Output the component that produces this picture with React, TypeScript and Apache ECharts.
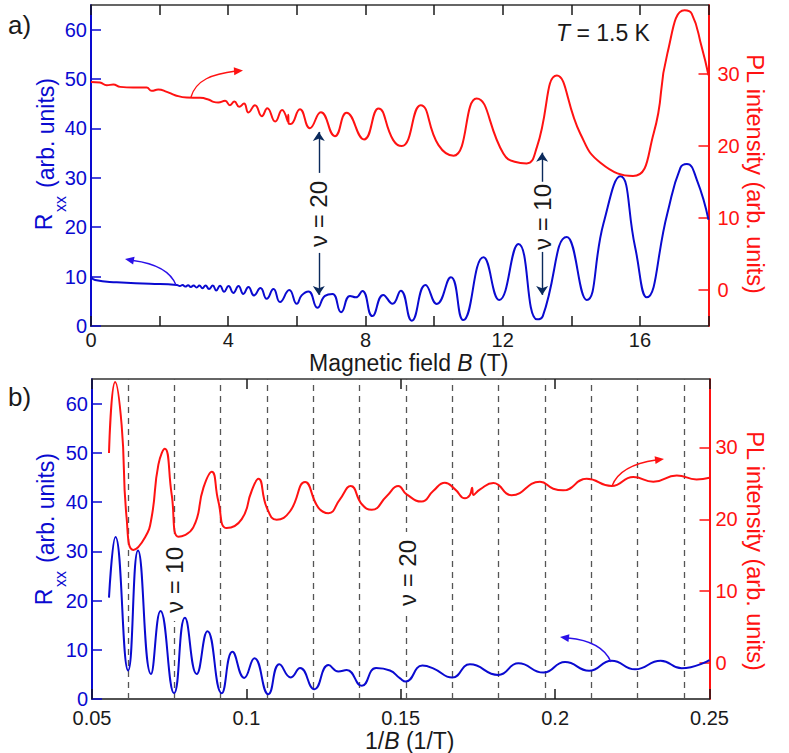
import { useEffect, useRef } from 'react';
import * as echarts from 'echarts';

// panel a: traces against B (T)
const rxxVsField: [number, number][] = [
  [0, 10], [0.12, 9.3], [0.75, 8.85], [1.72, 8.58], [2.5, 8.31], [2.59, 8.11], [2.67, 8.3], [2.75, 7.98], [2.83, 8.25],
  [2.91, 7.9], [2.99, 8.2], [3.08, 7.8], [3.16, 8.2], [3.25, 7.65], [3.34, 8.2], [3.44, 7.5], [3.55, 8.2], [3.65, 7.2],
  [3.76, 8.15], [3.88, 6.95], [4.01, 8.1], [4.15, 6.7], [4.3, 8.1], [4.44, 6.5], [4.59, 7.9], [4.75, 6.2], [4.94, 7.7],
  [5.12, 5.5], [5.32, 7.5], [5.51, 4.85], [5.78, 7.3], [6.0, 4.5], [6.14, 6.2], [6.34, 7.0], [6.6, 3.7], [6.82, 6.1],
  [7.04, 6.5], [7.29, 2.8], [7.55, 6.1], [7.72, 5.8], [7.91, 7.1], [8.2, 2.0], [8.52, 6.3], [8.79, 4.5], [9.03, 7.16],
  [9.35, 1.08], [9.75, 8.3], [10.08, 4.46], [10.49, 9.86], [10.85, 1.2], [11.44, 13.9], [11.9, 5.27], [12.46, 16.6],
  [13.0, 1.35], [13.17, 2.0], [13.87, 18], [14.45, 5.27], [14.94, 20.8], [15.43, 30.3], [15.86, 16], [16.2, 5.8],
  [16.8, 22.8], [17.18, 32], [17.37, 32.8], [17.66, 29.6], [18, 21.5],
];

const plVsField: [number, number][] = [
  [0, 28.84], [0.26, 28.75], [0.46, 28.38], [0.65, 28.47], [0.85, 28.15], [1.23, 28.06], [1.62, 28.06], [1.77, 27.6],
  [1.96, 27.78], [2.21, 27.46], [2.45, 27.0], [2.79, 26.67], [3.18, 26.63], [3.42, 26.4], [3.57, 26.07], [3.71, 25.98],
  [3.91, 26.21], [4.05, 25.61], [4.18, 26.12], [4.32, 25.38], [4.46, 25.84], [4.59, 24.6], [4.78, 25.61], [4.98, 24.09],
  [5.14, 25.2], [5.37, 23.35], [5.57, 24.96], [5.74, 23.3], [5.75, 24.3], [5.76, 23.1], [5.82, 23.0], [6.09, 25.06],
  [6.38, 22.43], [6.7, 24.64], [7.11, 21.32], [7.45, 24.55], [7.96, 20.86], [8.38, 25.15], [8.81, 20.77], [9.06, 19.94],
  [9.61, 25.61], [10.13, 20.07], [10.57, 18.6], [11.24, 26.53], [12.02, 18.92], [12.35, 17.77], [12.7, 17.54], [13.0, 19.84],
  [13.58, 29.72], [14.26, 21.69], [14.85, 17.63], [15.8, 15.78], [16.4, 21.69], [16.8, 32.76], [17.3, 38.76], [17.51, 38.3],
  [17.8, 33.7], [18, 29.76],
];

// panel b: the same traces against 1/B (1/T)
const rxxVsInverse: [number, number][] = [
  [0.0555, 20.6], [0.0576, 32.9], [0.0617, 5.8], [0.0649, 30.2], [0.0691, 5.1], [0.0722, 17.9], [0.0766, 1.2], [0.0801, 16.5],
  [0.0839, 5.1], [0.0874, 13.8], [0.092, 1.2], [0.0955, 9.6], [0.0993, 4.3], [0.1026, 8.3], [0.1071, 1.0], [0.1107, 7.1],
  [0.1144, 4.4], [0.1174, 6.3], [0.122, 2.0], [0.1266, 6.9], [0.1298, 5.6], [0.1325, 5.9], [0.1374, 2.7], [0.142, 6.3],
  [0.1465, 5.8], [0.1498, 4.2], [0.1516, 3.56], [0.157, 6.8], [0.1605, 6.25], [0.1667, 4.37], [0.1724, 7.06], [0.1816, 4.9],
  [0.1881, 7.26], [0.1962, 5.38], [0.2032, 7.53], [0.211, 5.78], [0.2183, 7.8], [0.2259, 6.05], [0.2342, 7.8], [0.241, 6.25],
  [0.25, 7.93],
];

const plVsInverse: [number, number][] = [
  [0.0555, 29.2], [0.0575, 39.1], [0.0596, 33.1], [0.0612, 20.25], [0.0634, 15.74], [0.0672, 17.49], [0.0693, 20.25],
  [0.0715, 27.6], [0.0736, 29.8], [0.0758, 23.47], [0.078, 17.58], [0.0828, 18.87], [0.0861, 24.39], [0.0888, 26.6],
  [0.0909, 22.55], [0.0936, 18.78], [0.0985, 20.02], [0.1017, 23.93], [0.1039, 25.63], [0.1066, 21.63], [0.1098, 19.93],
  [0.1141, 21.08], [0.119, 25.17], [0.1233, 21.63], [0.1266, 20.85], [0.1303, 22.78], [0.1338, 24.62], [0.1374, 22.09],
  [0.1406, 21.31], [0.1455, 23.24], [0.1492, 24.62], [0.1519, 23.47], [0.1568, 22.46], [0.1605, 23.93], [0.1643, 25.08],
  [0.1676, 24.16], [0.1708, 22.92], [0.1724, 23.38], [0.1731, 24.39], [0.1735, 23.38], [0.1757, 24.16], [0.18, 25.03],
  [0.1859, 23.33], [0.1951, 25.22], [0.1994, 24.25], [0.2026, 24.02], [0.2102, 25.63], [0.2183, 24.62], [0.2253, 25.86],
  [0.2318, 25.22], [0.2394, 26.09], [0.2458, 25.54], [0.25, 25.77],
];

const fieldTicks = [0, 2, 4, 6, 8, 10, 12, 14, 16, 18];
const fieldLabels = [0, 4, 8, 12, 16];
const inverseTicks = [0.05, 0.1, 0.15, 0.2, 0.25];
const rxxTicks = [0, 10, 20, 30, 40, 50, 60];
const plTicks = [0, 10, 20, 30];
const fillingMinima = [0.0617, 0.0767, 0.0917, 0.1067, 0.1217, 0.1367, 0.1517, 0.1667, 0.1817, 0.1967, 0.2117, 0.2267, 0.2417];
// [B, from, to] on the left axis
const fillingArrows = [
  [6.64, 31, 39.3],
  [6.64, 14.8, 6.3],
  [13.15, 29.2, 35.1],
  [13.15, 15, 6.3],
];

const FONT = '"Liberation Sans", Arial, sans-serif';
const BLUE = '#0a0ad0';
const RED = '#ff1212';
const NAVY = '#0b2a5c';
const INK = '#1a1a1a';

function xAxes(gridIndex: number, min: number, max: number, ticks: number[], labels: number[], name: string, nameGap: number, margin: number) {
  const bottom = {
    type: 'value',
    gridIndex,
    min,
    max,
    position: 'bottom',
    name,
    nameLocation: 'middle',
    nameGap,
    nameTextStyle: {
      color: INK,
      fontFamily: FONT,
      fontSize: 23,
      padding: [0, 0, 0, 18],
      rich: { i: { fontStyle: 'italic', fontSize: 23, fontFamily: FONT, color: INK } },
    },
    splitLine: { show: false },
    axisLine: { onZero: false, lineStyle: { color: INK, width: 1.5 } },
    axisTick: { inside: true, length: 10, customValues: ticks, lineStyle: { color: INK, width: 1.5 } },
    axisLabel: {
      customValues: labels,
      color: INK,
      fontFamily: FONT,
      fontSize: 20,
      lineHeight: 14,
      margin,
      hideOverlap: false,
      formatter: (v: number) => String(v),
    },
  };
  const top = {
    type: 'value',
    gridIndex,
    min,
    max,
    position: 'top',
    splitLine: { show: false },
    axisLine: { onZero: false, lineStyle: { color: '#333', width: 1.5 } },
    axisTick: { inside: true, length: 10, customValues: ticks, lineStyle: { color: INK, width: 1.5 } },
    axisLabel: { show: false },
  };
  return [bottom, top];
}

function yAxes(gridIndex: number, rightMargin: number) {
  const left = {
    type: 'value',
    gridIndex,
    min: 0,
    max: 65,
    position: 'left',
    splitLine: { show: false },
    axisLine: { onZero: false, lineStyle: { color: BLUE, width: 2 } },
    axisTick: { inside: true, length: 10, customValues: rxxTicks, lineStyle: { color: BLUE, width: 1.5 } },
    axisLabel: { customValues: rxxTicks, color: BLUE, fontFamily: FONT, fontSize: 20, lineHeight: 14, margin: 4 },
  };
  const right = {
    type: 'value',
    gridIndex,
    min: -5,
    max: 39.5,
    position: 'right',
    splitLine: { show: false },
    axisLine: { onZero: false, lineStyle: { color: RED, width: 2 } },
    axisTick: { inside: true, length: 10, customValues: plTicks, lineStyle: { color: RED, width: 1.5 } },
    axisLabel: { customValues: plTicks, color: RED, fontFamily: FONT, fontSize: 20, lineHeight: 14, margin: rightMargin },
  };
  return [left, right];
}

function trace(name: string, data: [number, number][], xAxisIndex: number, yAxisIndex: number, color: string) {
  return {
    type: 'line',
    name,
    data,
    xAxisIndex,
    yAxisIndex,
    z: 10,
    showSymbol: false,
    smooth: 0.5,
    clip: false,
    lineStyle: { color, width: 2 },
    silent: true,
  };
}

function curvedArrow(x0: number, y0: number, c1x: number, c1y: number, c2x: number, c2y: number, x1: number, y1: number, tipX: number, tipY: number, color: string) {
  const ang = Math.atan2(tipY - y1, tipX - x1);
  const back = 9;
  const half = 4;
  const bx = tipX - Math.cos(ang) * back;
  const by = tipY - Math.sin(ang) * back;
  return [
    {
      type: 'bezierCurve',
      shape: { x1: x0, y1: y0, cpx1: c1x, cpy1: c1y, cpx2: c2x, cpy2: c2y, x2: x1, y2: y1 },
      style: { stroke: color, lineWidth: 1.4, fill: 'none' },
      z: 20,
    },
    {
      type: 'polygon',
      shape: {
        points: [
          [tipX, tipY],
          [bx - Math.sin(ang) * half, by + Math.cos(ang) * half],
          [bx + Math.sin(ang) * half, by - Math.cos(ang) * half],
        ],
      },
      style: { fill: color },
      z: 20,
    },
  ];
}

// z 5 keeps the white label box over the dashed lines (z 2) but under the traces (z 10)
function rotated(text: string, x: number, y: number, angle: number, color: string, fontSize: number, opaque = false) {
  return {
    type: 'text',
    x,
    y,
    rotation: angle,
    z: 5,
    style: {
      text,
      fill: color,
      font: `${fontSize}px ${FONT}`,
      textAlign: 'center',
      textVerticalAlign: 'middle',
      ...(opaque ? { backgroundColor: '#fff', padding: [3, 8] } : {}),
    },
  };
}

function label(text: string, x: number, y: number, fontSize: number) {
  return {
    type: 'text',
    x,
    y,
    z: 15,
    style: { text, fill: INK, font: `${fontSize}px ${FONT}`, textAlign: 'left', textVerticalAlign: 'middle' },
  };
}

function rxxTitle(dy: number) {
  const up = Math.PI / 2;
  return [
    rotated('R', 44, 222 + dy, up, BLUE, 23),
    rotated('xx', 60, 204 + dy, up, BLUE, 16),
    rotated('(arb. units)', 46, 133 + dy, up, BLUE, 23),
  ];
}

export default function App() {
  const chartRef = useRef<HTMLDivElement>(null);

  useEffect(() => {
    if (!chartRef.current) return;
    const chart = echarts.init(chartRef.current, null, { renderer: 'svg' });
    const up = Math.PI / 2;
    const down = -Math.PI / 2;

    const option: any = {
      animation: false,
      backgroundColor: '#fff',
      grid: [
        { left: 91, top: 5, width: 617.5, height: 321 },
        { left: 92, top: 379, width: 617.5, height: 322 },
      ],
      xAxis: [
        ...xAxes(0, 0, 18, fieldTicks, fieldLabels, 'Magnetic field {i|B} (T)', 25, 7),
        ...xAxes(1, 0.05, 0.25, inverseTicks, inverseTicks, '1/{i|B} (1/T)', 28, 12),
      ],
      yAxis: [...yAxes(0, 9), ...yAxes(1, 6)],
      series: [
        {
          ...trace('Rxx', rxxVsField, 0, 0, BLUE),
          markLine: {
            silent: true,
            z: 12,
            symbol: ['none', 'arrow'],
            symbolSize: 9,
            label: { show: false },
            lineStyle: { color: NAVY, width: 1.4, type: 'solid' },
            data: fillingArrows.map(([b, from, to]) => [{ coord: [b, from] }, { coord: [b, to] }]),
          },
        },
        trace('PL intensity', plVsField, 0, 1, RED),
        {
          ...trace('Rxx', rxxVsInverse, 2, 2, BLUE),
          markLine: {
            silent: true,
            z: 2,
            symbol: 'none',
            precision: 4,
            label: { show: false },
            lineStyle: { color: '#555', width: 1.3, type: [6, 5] },
            data: fillingMinima.map((v) => ({ xAxis: v })),
          },
        },
        trace('PL intensity', plVsInverse, 2, 3, RED),
      ],
      graphic: [
        label('a)', 8, 25, 26),
        label('b)', 8, 397, 26),
        {
          type: 'text',
          x: 556,
          y: 33,
          z: 15,
          style: {
            text: '{i|T} = 1.5 K',
            font: `23px ${FONT}`,
            fill: INK,
            textVerticalAlign: 'middle',
            rich: { i: { fontStyle: 'italic', fontSize: 23, fontFamily: FONT, fill: INK } },
          },
        },
        rotated('ν = 20', 318, 214, up, INK, 24),
        rotated('ν = 10', 542, 217, up, INK, 24),
        rotated('ν = 10', 174, 580, up, INK, 24, true),
        rotated('ν = 20', 407, 573, up, INK, 24, true),
        ...rxxTitle(0),
        ...rxxTitle(375),
        rotated('PL intensity (arb. units)', 755, 174, down, RED, 23.5),
        rotated('PL intensity (arb. units)', 755, 551, down, RED, 23.5),
        ...curvedArrow(191, 97, 196, 80, 212, 74, 236, 71, 243, 70.5, RED),
        ...curvedArrow(176, 285, 170, 270, 152, 263, 133, 260.5, 125, 259, '#2a10e8'),
        ...curvedArrow(612, 486, 618, 470, 635, 463, 656, 460, 664, 459, RED),
        ...curvedArrow(611, 662, 605, 648, 590, 640, 568, 638, 560, 637, '#2a10e8'),
      ],
    };

    chart.setOption(option);

    return () => {
      chart.dispose();
    };
  }, []);

  return <div ref={chartRef} style={{ position: 'absolute', left: 0, top: 0, width: 789, height: 753 }} />;
}
